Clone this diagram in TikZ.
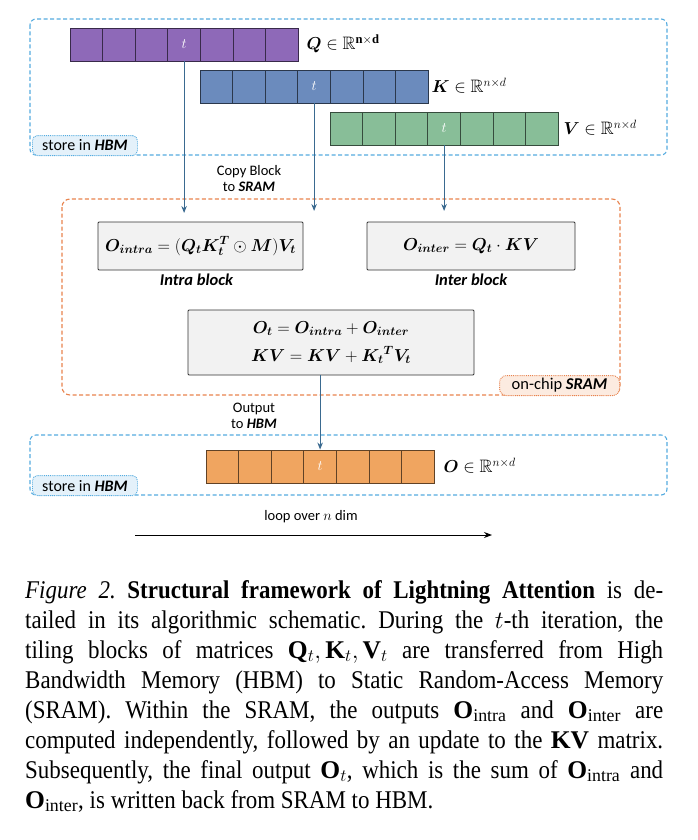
\documentclass[tikz,border=0pt]{standalone}
\usepackage{amsmath}
\usepackage{amssymb}
\usepackage{bm}
\usepackage{fontspec}
\setmainfont{Liberation Serif}
\newfontfamily\capfont[FakeStretch=0.9]{Liberation Serif}
\newfontfamily\labelfont{Carlito}
\usetikzlibrary{arrows.meta, positioning}

\definecolor{qpurple}{HTML}{8E69B8}
\definecolor{kblue}{HTML}{6B8BBD}
\definecolor{vgreen}{HTML}{88BE98}
\definecolor{oorange}{HTML}{F0A560}
\definecolor{hbmblue}{HTML}{55ACE0}
\definecolor{hbmfill}{HTML}{E4F1FA}
\definecolor{sramorange}{HTML}{E8834E}
\definecolor{sramfill}{HTML}{FCEBE0}
\definecolor{arrowblue}{HTML}{3A6A90}
\definecolor{boxgray}{HTML}{F2F2F2}

\tikzset{
    cell/.style={draw=#1!40!black, fill=#1, line width=0.9pt, minimum width=32.6pt, minimum height=33pt, inner sep=0pt},
    memtag/.style={draw=hbmblue, fill=hbmfill, densely dotted, line width=0.9pt, rounded corners=5pt, inner sep=1pt, minimum width=105pt, minimum height=20pt, font=\labelfont\fontsize{16}{18}\selectfont},
    sramtag/.style={draw=sramorange, fill=sramfill, densely dotted, line width=0.9pt, rounded corners=7pt, inner sep=1pt, minimum width=120pt, minimum height=20pt, font=\labelfont\fontsize{16.5}{18}\selectfont},
    region/.style={line width=1.1pt, dash pattern=on 4pt off 2.5pt},
    formula/.style={draw=black!80, fill=boxgray, line width=0.9pt, rounded corners=1pt, inner sep=0pt, font=\fontsize{16.5}{19}\selectfont},
    blocklabel/.style={font=\labelfont\bfseries\itshape\fontsize{16.5}{18}\selectfont, inner sep=1pt},
    flow/.style={draw=arrowblue, line width=1pt, -{Stealth[length=7pt, width=5.5pt]}},
    note/.style={font=\labelfont\fontsize{14.5}{16}\selectfont, align=center},
    setlabel/.style={anchor=west, font=\fontsize{18}{20}\selectfont}
}

\begin{document}
\begin{tikzpicture}[x=1pt, y=-1pt]
    \useasboundingbox[fill=white] (0,0) rectangle (698,840);
    % memory regions
    \draw[region, hbmblue, rounded corners=6pt] (30,19) rectangle (667,155);
    \draw[region, hbmblue, rounded corners=6pt] (30,435) rectangle (667,495);
    \draw[region, sramorange, rounded corners=8pt] (62,199) rectangle (620,395);
    \node[memtag, anchor=south west] (hbmtop) at (32,156) {store in \textbf{\textit{HBM}}};
    \node[memtag, anchor=south west] (hbmbot) at (32,496) {store in \textbf{\textit{HBM}}};
    \node[sramtag, anchor=south east] (sram) at (620,396) {on-chip \textbf{\textit{SRAM}}};

    % Q, K, V and O tiles
    \foreach \i in {1,...,7} {
        \node[cell=qpurple] (q\i) at ({70+(\i-0.5)*32.6},44.5) {};
        \node[cell=kblue] (k\i) at ({200+(\i-0.5)*32.6},86.5) {};
        \node[cell=vgreen] (v\i) at ({330+(\i-0.5)*32.6},128.5) {};
        \node[cell=oorange] (o\i) at ({206+(\i-0.5)*32.6},466.5) {};
    }
    \foreach \m in {q,k,v,o}
        \node[text=white, font=\fontsize{15}{16}\selectfont] at (\m4) {$t$};
    \node[setlabel] (qlab) at (303,44) {$\bm{Q} \in \mathbb{R}^{\mathbf{n\times d}}$};
    \node[setlabel] (klab) at (428,86) {$\bm{K} \in \mathbb{R}^{n\times d}$};
    \node[setlabel] (vlab) at (560,128) {$\bm{V} \in \mathbb{R}^{n\times d}$};
    \node[setlabel] (olab) at (440,466) {$\bm{O} \in \mathbb{R}^{n\times d}$};

    % computation in SRAM
    \node[formula, minimum width=205pt, minimum height=48pt] (intra) at (200.5,246) {$\bm{O_{intra}} = (\bm{Q_t K_t^T} \odot \bm{M})\bm{V_t}$};
    \node[formula, minimum width=208pt, minimum height=48pt] (inter) at (471,246) {$\bm{O_{inter}} = \bm{Q_t} \cdot \bm{KV}$};
    \node[blocklabel, below=2pt of intra, xshift=-4pt] (intralab) {Intra block};
    \node[blocklabel, below=2pt of inter] (interlab) {Inter block};
    \node[formula, minimum width=286pt, minimum height=65pt, align=center] (update) at (331,342.5) {$\bm{O_t} = \bm{O_{intra}} + \bm{O_{inter}}$\\[9pt] $\bm{KV} = \bm{KV} + \bm{K_t}{}^{\bm{T}}\bm{V_t}$};

    % transfers
    \coordinate (qin) at (q4 |- 0,213);
    \coordinate (kin) at (k4 |- 0,211);
    \coordinate (vin) at (v4 |- 0,211);
    \draw[flow] (q4.south) -- (qin);
    \draw[flow] (k4.south) -- (kin);
    \draw[flow] (v4.south) -- (vin);
    \draw[flow] (update.south -| o4) -- (o4.north);
    \node[note] (copy) at (249,179) {Copy Block\\to \textbf{\textit{SRAM}}};
    \node[note] (out) at (254,416) {Output\\to \textbf{\textit{HBM}}};

    % loop direction
    \node[font=\labelfont\fontsize{14.5}{16}\selectfont] (loop) at (311,517) {loop over $n$ dim};
    \coordinate (loopa) at (135,535);
    \coordinate (loopb) at (492,535);
    \draw[line width=1pt, -{Stealth[length=8pt, width=6pt]}] (loopa) -- (loopb);

    % caption
    \node[anchor=north west, text width=638pt, align=justify, inner sep=0pt, font=\capfont\fontsize{25.5}{30}\selectfont\frenchspacing] (caption) at (25,580) {\textit{Figure 2.}~\textbf{Structural framework of Lightning Attention} is de-\linebreak tailed in its algorithmic schematic. During the $t$-th iteration, the\linebreak tiling blocks of matrices $\mathbf{Q}_t, \mathbf{K}_t, \mathbf{V}_t$ are transferred from High\linebreak Bandwidth Memory (HBM) to Static Random-Access Memory\linebreak (SRAM). Within the SRAM, the outputs $\mathbf{O}_{\mathrm{intra}}$ and $\mathbf{O}_{\mathrm{inter}}$ are\linebreak computed independently, followed by an update to the $\mathbf{KV}$ matrix.\linebreak Subsequently, the final output $\mathbf{O}_t$, which is the sum of $\mathbf{O}_{\mathrm{intra}}$ and\linebreak $\mathbf{O}_{\mathrm{inter}}$, is written back from SRAM to HBM.};
\end{tikzpicture}
\end{document}
